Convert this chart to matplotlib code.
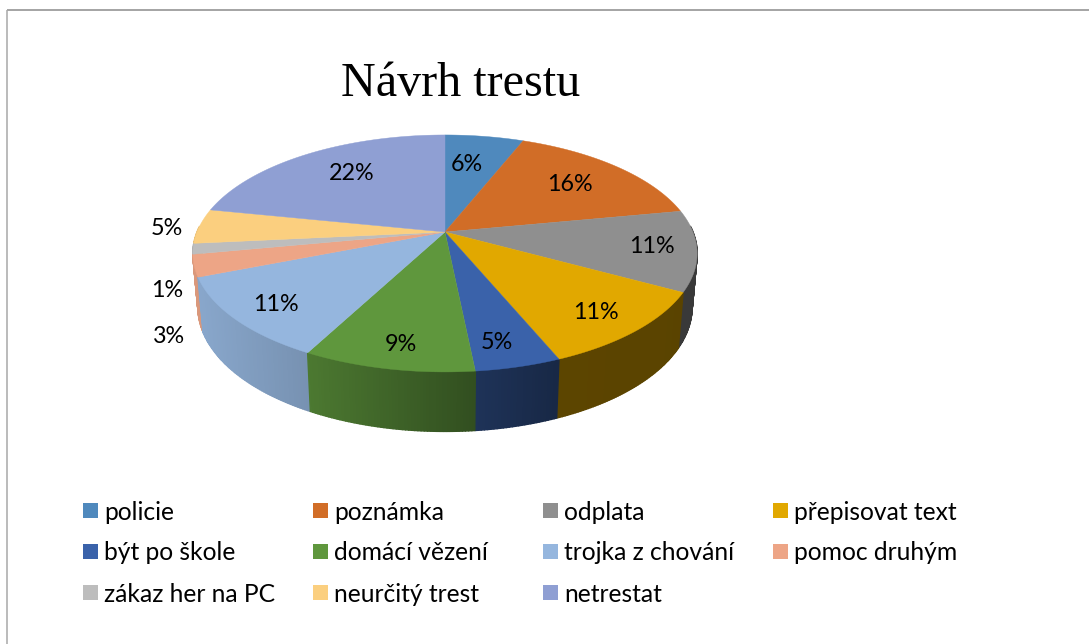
import numpy as np
import matplotlib
matplotlib.use('Agg')
import matplotlib.pyplot as plt
from matplotlib.patches import Rectangle
from matplotlib.colors import to_rgb

categories = ['policie', 'poznámka', 'odplata', 'přepisovat text',
              'být po škole', 'domácí vězení', 'trojka z chování', 'pomoc druhým',
              'zákaz her na PC', 'neurčitý trest', 'netrestat']
# read from the slice edges, the labels show them rounded
values = [6, 16, 11, 10.75, 4.65, 9.3, 11.3, 3, 1.45, 4.75, 21.8]
colors = ['#4F89BD', '#D16D27', '#8F8F8F', '#E1A800', '#3A62AA', '#5F973D',
          '#95B6DE', '#EDA586', '#BDBDBD', '#FBCF7F', '#8F9FD3']
title = 'Návrh trestu'

# where the percent labels sit, in pixels
label_xy = [(467, 164), (570, 184), (652, 246), (596, 312), (497, 342), (401, 344),
            (276, 304), (169, 336), (167, 290), (167, 228), (352, 173)]

W, H = 1089, 644
cx, cy = 445, 232  # apex of the pie
A, B, k = 248, 114.6, 0.181  # perspective of the tilted disc

fig = plt.figure(figsize=(W / 100, H / 100), dpi=100)
ax = fig.add_axes([0, 0, 1, 1])
ax.set_xlim(0, W)
ax.set_ylim(H, 0)
ax.axis('off')


def project(theta):
    # theta clockwise from 12 o'clock, rim of the top face
    X, Y = np.sin(theta), np.cos(theta)
    d = 1 + k * Y
    return cx + A * X / d, cy - B * Y / d, Y


def shade(sx):
    # wall gets darker from left to right
    return np.interp(sx, [195, 308, 475, 557, 700], [0.92, 0.8, 0.52, 0.41, 0.4])


edges = np.cumsum([0] + values) / sum(values) * 2 * np.pi

# side walls, back to front
strips = []
for i in range(len(values)):
    n = max(int(values[i] * 6), 6)
    th = np.linspace(edges[i], edges[i + 1], n + 1)
    for a, b in zip(th[:-1], th[1:]):
        strips.append((np.cos((a + b) / 2), a, b, colors[i]))
strips.sort(key=lambda s: -s[0])

for cy_mid, a, b, c in strips:
    if cy_mid > 0.05:  # back of the disc, hidden by the top face
        continue
    x1, y1, Y1 = project(a)
    x2, y2, Y2 = project(b)
    bx1 = cx + (x1 - cx) * 0.98
    bx2 = cx + (x2 - cx) * 0.98
    by1 = y1 + 52 - 7.5 * Y1
    by2 = y2 + 52 - 7.5 * Y2
    col = np.array(to_rgb(c)) * shade((x1 + x2) / 2)
    ax.fill([x1, x2, bx2, bx1], [y1, y2, by2, by1], color=col, lw=1.0, zorder=2)

# top face
for i in range(len(values)):
    th = np.linspace(edges[i], edges[i + 1], 80)
    x, y, _ = project(th)
    ax.fill(np.r_[cx, x], np.r_[cy, y], color=colors[i], lw=0.3, zorder=3)

for v, (lx, ly) in zip(values, label_xy):
    ax.text(lx, ly, '%.0f%%' % v, ha='center', va='center', fontsize=16.8,
            family='Lato', color='black', zorder=5)

ax.text(461, 96, title, ha='center', va='baseline', fontsize=34.7,
        family='Liberation Serif', color='black')

# legend, row by row
col_x = [83, 313, 543, 773]
row_y = [510.5, 551.5, 592.5]
for i, name in enumerate(categories):
    x0 = col_x[i % 4]
    y0 = row_y[i // 4]
    ax.add_patch(Rectangle((x0, y0 - 7.5), 15, 15, color=colors[i], lw=0))
    ax.text(x0 + 21, y0 + 1.5, name, ha='left', va='center', fontsize=17.75,
            family='Lato', color='black')

# frame, only top and left are in the picture
ax.plot([6.5, W], [10, 10], color='#8c8c8c', lw=1.1, solid_capstyle='butt')
ax.plot([6.5, 6.5], [10, H], color='#a8a8a8', lw=1.1, solid_capstyle='butt')

fig.savefig('out.png', dpi=100, facecolor='white')
